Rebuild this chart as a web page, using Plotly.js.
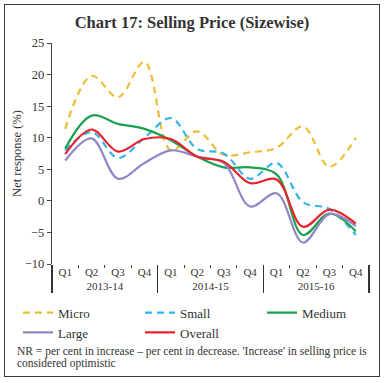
<!DOCTYPE html>
<html>
<head>
<meta charset="utf-8">
<script src="https://cdn.plot.ly/plotly-3.0.1.min.js"></script>
<style>
  html, body { margin: 0; padding: 0; background: #fff; }
  #wrap { position: relative; width: 384px; height: 383px; }
  #chart { position: absolute; left: 0; top: 0; width: 384px; height: 383px; }
  #frame { position: absolute; left: 4px; top: 4px; width: 374px; height: 371px;
           border: 1.5px solid #3a3a3a; pointer-events: none; }
</style>
</head>
<body>
<div id="wrap"><div id="chart"></div><div id="frame"></div></div>
<script>
// ---- data ----
const years = ['2013-14','2013-14','2013-14','2013-14','2014-15','2014-15','2014-15','2014-15','2015-16','2015-16','2015-16','2015-16'];
const quarters = ['Q1','Q2','Q3','Q4','Q1','Q2','Q3','Q4','Q1','Q2','Q3','Q4'];
const micro   = [11.4, 19.8, 16.4, 22.0, 8.0, 11.0, 7.3, 7.7, 8.4, 11.8, 5.4, 10.0];
const small   = [8.0, 10.9, 6.8, 10.0, 13.1, 8.2, 7.5, 3.5, 6.0, -0.2, -1.3, -5.4];
const medium  = [8.3, 13.5, 12.2, 11.4, 9.6, 7.0, 5.3, 5.3, 4.2, -5.4, -2.0, -4.8];
const large   = [6.4, 9.9, 3.5, 6.0, 8.0, 7.0, 6.0, -0.9, 1.2, -6.6, -2.1, -4.0];
const overall = [7.4, 11.3, 7.8, 9.8, 9.8, 7.0, 6.2, 2.8, 3.4, -4.1, -1.4, -3.6];
const seriesNames = ['Micro','Small','Medium','Large','Overall'];
const yTicks = [-10, -5, 0, 5, 10, 15, 20, 25];
const titleText = '<b>Chart 17: Selling Price (Sizewise)</b>';
const yTitle = 'Net response (%)';
const noteLine1 = "NR = per cent in increase \u2013 per cent in decrease. 'Increase' in selling price is";
const noteLine2 = "considered optimistic";

// ---- styles ----
const SERIF = '"Liberation Serif", "DejaVu Serif", serif';
const colors = ['#EDBD35', '#35B3EA', '#1BA14E', '#8F88C5', '#E8232C'];
const dashes = ['7px,5px', '7px,5px', 'solid', 'solid', 'solid'];
const vals = [micro, small, medium, large, overall];

const traces = vals.map((v, i) => ({
  type: 'scatter', mode: 'lines',
  x: [years, quarters], y: v,
  name: seriesNames[i],
  line: { color: colors[i], width: 2.2, dash: dashes[i], shape: 'spline', smoothing: 1 },
  hoverinfo: 'skip'
}));

const idx = quarters.map((q, i) => i);

const layout = {
  width: 384, height: 383,
  paper_bgcolor: '#fff', plot_bgcolor: '#fff',
  margin: { l: 52, r: 15, t: 43, b: 119 },
  font: { family: SERIF, color: '#333', size: 12 },
  title: { text: titleText, font: { family: SERIF, size: 16.5, color: '#333' },
           x: 0.5, xref: 'container', xanchor: 'center', y: 0.943, yref: 'container', yanchor: 'middle' },
  showlegend: true,
  legend: {
    orientation: 'h', x: -0.044, xanchor: 'left', y: -0.152, yanchor: 'top',
    entrywidth: 77, entrywidthmode: 'pixels',
    font: { family: SERIF, size: 13, color: '#333' },
    traceorder: 'normal', bgcolor: 'rgba(0,0,0,0)'
  },
  xaxis: {
    type: 'multicategory',
    showline: false, showgrid: false, zeroline: false,
    ticks: 'outside', tickson: 'boundaries', ticklen: 3, tickcolor: '#444',
    showdividers: true, dividercolor: '#333', dividerwidth: 1.2,
    tickfont: { family: SERIF, size: 11, color: '#333' },
    range: [-0.5, 11.5]
  },
  xaxis2: {
    overlaying: 'x', anchor: 'free', position: 10 / 35, type: 'linear',
    range: [-0.5, 11.5], tickvals: idx, showticklabels: false,
    ticks: 'outside', ticklen: 4, tickcolor: '#444',
    showline: true, linecolor: '#444', linewidth: 1,
    showgrid: false, zeroline: false
  },
  yaxis: {
    range: [-10, 25], tickvals: yTicks,
    ticks: 'outside', ticklen: 4, tickcolor: '#444',
    showline: true, linecolor: '#444', linewidth: 1.2,
    showgrid: false, zeroline: false,
    tickfont: { family: SERIF, size: 12.5, color: '#333' },
    title: { text: yTitle, font: { family: SERIF, size: 12.5, color: '#333' }, standoff: 0 }
  },
  annotations: [
    { text: noteLine1, xref: 'paper', yref: 'paper',
      x: -0.117, y: -0.396, xanchor: 'left', yanchor: 'middle', align: 'left',
      showarrow: false, font: { family: SERIF, size: 11.5, color: '#333' } },
    { text: noteLine2, xref: 'paper', yref: 'paper',
      x: -0.117, y: -0.45, xanchor: 'left', yanchor: 'middle', align: 'left',
      showarrow: false, font: { family: SERIF, size: 11.5, color: '#333' } }
  ]
};

Plotly.newPlot('chart', traces, layout, { displayModeBar: false, staticPlot: true });
</script>
</body>
</html>
